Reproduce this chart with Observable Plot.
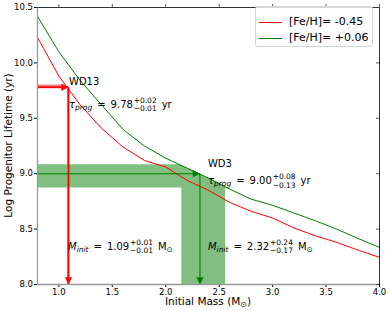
<!DOCTYPE html>
<html><head><meta charset="utf-8">
<script src="https://cdn.jsdelivr.net/npm/d3@7"></script>
<script src="https://cdn.jsdelivr.net/npm/@observablehq/plot@0.6"></script>
<style>
body{margin:0;background:#fff;}
#wrap{position:relative;width:390px;height:311px;font-family:"DejaVu Sans",sans-serif;}
#wrap svg text{white-space:pre;}
#legend{position:absolute;left:255px;top:6px;width:118px;height:41px;border:1px solid #d4d4d4;border-radius:3px;background:rgba(255,255,255,0.8);font-size:11px;box-sizing:border-box;}
#legend .row{position:absolute;left:0;height:14px;}
#legend .sw{position:absolute;left:3px;width:23px;height:0;border-top:1.2px solid;}
#legend .lb{position:absolute;left:33px;white-space:pre;line-height:14px;color:#000;}
</style></head><body><div id="wrap"><div id="legend"></div></div>
<script>
// ---- data ----
const mass = [0.8,1.0,1.2,1.4,1.6,1.8,2.0,2.2,2.4,2.6,2.8,3.0,3.2,3.4,3.6,3.8,4.0];
const lifeMetalPoor = [10.23,9.88,9.62,9.41,9.24,9.12,9.06,8.94,8.85,8.74,8.66,8.60,8.51,8.44,8.38,8.31,8.245];
const lifeSolar = [10.42,10.10,9.84,9.62,9.40,9.25,9.14,9.05,8.96,8.86,8.77,8.715,8.645,8.575,8.50,8.415,8.335];
const seriesLabels = ["[Fe/H]= -0.45", "[Fe/H]= +0.06"];
const stars = ["WD13", "WD3"];
const mInit = [1.09, 2.32];
const mPlus = [0.01, 0.24];
const mMinus = [0.01, 0.17];
const tauProg = [9.78, 9.00];
const tauPlus = [0.02, 0.08];
const tauMinus = [0.01, 0.13];
const xDomain = [0.8, 4.0];
const yDomain = [8.0, 10.5];
const xTicks = [1.0, 1.5, 2.0, 2.5, 3.0, 3.5, 4.0];
const yTicks = [8.0, 8.5, 9.0, 9.5, 10.0, 10.5];

// ---- styles ----
const lineColors = ["#ff0000", "#008000"];
const bandColors = ["#ff8080", "#80bf80"];
const curves = [lifeMetalPoor, lifeSolar];

function interp(xs, ys, x){
  for (let i=0;i<xs.length-1;i++){
    if (x>=xs[i] && x<=xs[i+1]){ const t=(x-xs[i])/(xs[i+1]-xs[i]); return ys[i]+t*(ys[i+1]-ys[i]); }
  }
  return NaN;
}
function invInterp(xs, ys, y){
  for (let i=0;i<ys.length-1;i++){
    const a=ys[i], b=ys[i+1];
    if (y<=a && y>=b){ const t=(a-y)/(a-b); return xs[i]+t*(xs[i+1]-xs[i]); }
  }
  return NaN;
}
function vBand(curve, lo, hi){
  const xs=[lo, ...mass.filter(m=>m>lo&&m<hi), hi];
  return xs.map(x=>({x, y: interp(mass, curve, x), base: yDomain[0]}));
}
function hBand(curve, lo, hi){
  const ys=[lo, ...curve.filter(v=>v>lo&&v<hi), hi].sort((a,b)=>a-b);
  return ys.map(y=>({y, x: invInterp(mass, curve, y), base: xDomain[0]}));
}

const lineData = mass.map((m,i)=>({m, poor: lifeMetalPoor[i], solar: lifeSolar[i]}));

const marks = [];
stars.forEach((s,i)=>{
  const c = curves[i];
  marks.push(Plot.areaY(vBand(c, mInit[i]-mMinus[i], mInit[i]+mPlus[i]), {x:"x", y1:"base", y2:"y", fill: bandColors[i], curve:"linear"}));
  marks.push(Plot.areaX(hBand(c, tauProg[i]-tauMinus[i], tauProg[i]+tauPlus[i]), {y:"y", x1:"base", x2:"x", fill: bandColors[i], curve:"linear"}));
});
marks.push(Plot.line(lineData, {x:"m", y:"poor", stroke: lineColors[0], strokeWidth:1}));
marks.push(Plot.line(lineData, {x:"m", y:"solar", stroke: lineColors[1], strokeWidth:1}));

const headRight = {draw(ctx, size){ const r=Math.sqrt(size/Math.PI); const L=2.4*r, W=1.2*r; ctx.moveTo(0,0); ctx.lineTo(-L,-W); ctx.lineTo(-L,W); ctx.closePath(); }};
const headDown = {draw(ctx, size){ const r=Math.sqrt(size/Math.PI); const L=2.4*r, W=1.2*r; ctx.moveTo(0,0); ctx.lineTo(-W,-L); ctx.lineTo(W,-L); ctx.closePath(); }};

stars.forEach((s,i)=>{
  const sw = i===0 ? 1.8 : 1.1;
  marks.push(Plot.link([{x1:xDomain[0], y1:tauProg[i], x2:mInit[i], y2:tauProg[i]}, {x1:mInit[i], y1:tauProg[i], x2:mInit[i], y2:yDomain[0]}],
    {x1:"x1", y1:"y1", x2:"x2", y2:"y2", stroke: lineColors[i], strokeWidth: sw}));
  marks.push(Plot.dot([{x:mInit[i], y:tauProg[i]}], {x:"x", y:"y", symbol: headRight, r:3, fill: lineColors[i], stroke:"none"}));
  marks.push(Plot.dot([{x:mInit[i], y:yDomain[0]}], {x:"x", y:"y", symbol: headDown, r:3, fill: lineColors[i], stroke:"none"}));
});

// spines and mirrored ticks
marks.push(Plot.ruleX([xDomain[0]], {stroke:"#9a9a9a", strokeWidth:1.3}));
marks.push(Plot.ruleY([yDomain[0]], {stroke:"#9a9a9a", strokeWidth:1.3}));
marks.push(Plot.ruleX([xDomain[1]], {stroke:"#333", strokeWidth:1}));
marks.push(Plot.ruleY([yDomain[1]], {stroke:"#333", strokeWidth:1}));
marks.push(Plot.ruleX(xTicks, {x: d=>d, y1: ()=>yDomain[1], y2: ()=>yDomain[1], insetTop:-3, stroke:"#333", strokeWidth:0.8}));
marks.push(Plot.ruleY(yTicks, {y: d=>d, x1: ()=>xDomain[1], x2: ()=>xDomain[1], insetLeft:-3, stroke:"#333", strokeWidth:0.8}));

const plot = Plot.plot({
  width: 390, height: 311,
  marginLeft: 37, marginRight: 11, marginTop: 7, marginBottom: 27,
  x: {domain: xDomain, ticks: xTicks, tickFormat: d3.format(".1f"), tickSize: 3, tickPadding: 1, label: null},
  y: {domain: yDomain, ticks: yTicks, tickFormat: d3.format(".1f"), tickSize: 3, tickPadding: 1.5, label: null},
  style: {fontFamily: "DejaVu Sans", fontSize: "8.5px", color: "#000", background: "transparent"},
  marks
});
const wrap = document.getElementById("wrap");
wrap.insertBefore(plot, wrap.firstChild);

const sx = plot.scale("x"), sy = plot.scale("y");
const svg = d3.select(plot);
const layer = svg.append("g").attr("font-family","DejaVu Sans").attr("fill","#000").attr("text-anchor","start");

const SCRIPT = 0.75;
function addMath(x, y, parts, base, anchor){
  const g = layer.append("g");
  let cx = 0;
  for (const p of parts){
    if (p.sup !== undefined){
      const fs = base*SCRIPT;
      cx += base*0.08;
      const a = g.append("text").attr("x",cx).attr("y",-base*0.48).attr("text-anchor","start").style("font-size",fs+"px").text(p.sup);
      const b = g.append("text").attr("x",cx).attr("y",base*0.34).attr("text-anchor","start").style("font-size",fs+"px").text(p.sub);
      cx += Math.max(a.node().getComputedTextLength(), b.node().getComputedTextLength());
    } else {
      const fs = p.small ? base*SCRIPT : base;
      const t = g.append("text").attr("x",cx).attr("y",p.shift||0).attr("text-anchor","start").style("font-size",fs+"px").attr("font-style",p.it?"italic":null).text(p.t);
      cx += t.node().getComputedTextLength();
    }
  }
  const ox = anchor==="middle" ? x - cx/2 : x;
  g.attr("transform",`translate(${ox},${y})`);
}

const nameOff = [[1,-1.5],[8.5,-6]];
const tauOff = [[1,21],[8.5,11]];
const mOff = [[0,-34],[8.5,-34]];
stars.forEach((s,i)=>{
  const px = sx.apply(mInit[i]), py = sy.apply(tauProg[i]), pb = sy.apply(yDomain[0]);
  addMath(px+nameOff[i][0], py+nameOff[i][1], [{t:s}], 10);
  addMath(px+tauOff[i][0], py+tauOff[i][1], [
    {t:"τ", it:true}, {t:"prog", it:true, small:true, shift:2.2}, {t:"\u2002=\u2002"+tauProg[i].toFixed(2)},
    {sup:"+"+tauPlus[i].toFixed(2), sub:"\u2212"+tauMinus[i].toFixed(2)}, {t:"\u2002yr"}], 10);
  addMath(px+mOff[i][0], pb+mOff[i][1], [
    {t:"M", it:true}, {t:"init", it:true, small:true, shift:2.2}, {t:"\u2002=\u2002"+mInit[i].toFixed(2)},
    {sup:"+"+mPlus[i].toFixed(2), sub:"\u2212"+mMinus[i].toFixed(2)}, {t:"\u2002M"}, {t:"⊙", small:true, shift:2}], 10);
});

// axis labels
const cxPlot = (sx.apply(xDomain[0]) + sx.apply(xDomain[1]))/2;
const cyPlot = (sy.apply(yDomain[0]) + sy.apply(yDomain[1]))/2;
addMath(cxPlot, 305, [{t:"Initial Mass (M"}, {t:"⊙", small:true, shift:2}, {t:")"}], 10.5, "middle");
layer.append("text").attr("transform",`translate(11.5,${cyPlot}) rotate(-90)`).attr("text-anchor","middle")
  .style("font-size","10.5px").text("Log Progenitor Lifetime (yr)");

// legend
const legend = document.getElementById("legend");
seriesLabels.forEach((lab,i)=>{
  const row = document.createElement("div");
  row.className = "row";
  row.style.top = (8 + i*16) + "px";
  row.innerHTML = `<div class="sw" style="top:7px;border-color:${lineColors[i]}"></div><div class="lb">${lab}</div>`;
  legend.appendChild(row);
});
</script></body></html>
